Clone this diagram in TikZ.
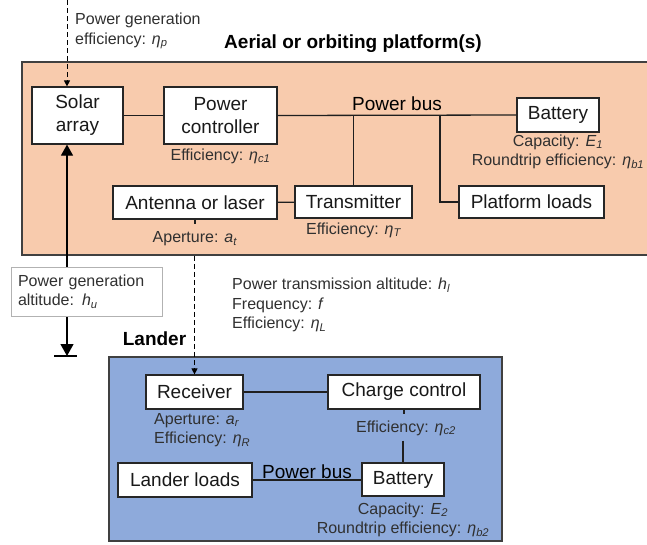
\documentclass[tikz,border=0pt]{standalone}
\usepackage{fontspec}
\setmainfont{Liberation Sans}
\usepackage{tikz}
\usetikzlibrary{positioning,arrows.meta,calc}
\usepackage{xcolor}
\definecolor{platfill}{HTML}{F8CBAD}
\definecolor{landfill}{HTML}{8EAADB}
\definecolor{edgegray}{HTML}{404040}
\definecolor{txtgray}{HTML}{303030}
\newcommand{\etav}[1]{\textit{η\textsubscript{#1}}}
\newcommand{\symv}[2]{\textit{#1}\textsubscript{\textit{#2}}}

\begin{document}
\begin{tikzpicture}[x=1pt,y=-1pt,
  box/.style={draw=black!85,line width=1.2pt,fill=white,text=black!90,inner sep=0pt,align=center,font=\fontsize{19}{23}\selectfont},
  lbl/.style={text=txtgray,inner sep=1pt,align=center,font=\fontsize{16}{19.5}\selectfont},
  wire/.style={line width=1.3pt,draw=black!88},
  beam/.style={line width=1pt,dash pattern=on 5pt off 3pt,-{Triangle[length=6pt,width=6pt]}},
  zone/.style={draw=edgegray,line width=1.5pt,inner sep=0pt}]
\useasboundingbox (0,0) rectangle (647,544);
\node[zone,fill=platfill,minimum width=630pt,minimum height=193pt] (plat) at (337,158.5) {};
\node[zone,fill=landfill,minimum width=393pt,minimum height=184pt] (land) at (305.5,449) {};
\node[font=\fontsize{19}{23}\selectfont\bfseries] (platTitle) at (353,44) {Aerial or orbiting platform(s)};
\node[font=\fontsize{19}{23}\selectfont\bfseries] (landTitle) at (154.5,339) {Lander};

\node[box,minimum width=91pt,minimum height=57pt] (solar) at (77.5,115.5) {Solar\\array};
\node[box,minimum width=113pt,minimum height=57pt] (ctrl) at (220.5,115.5) {Power\\controller};
\node[box,minimum width=82pt,minimum height=34pt] (battA) at (558,115) {Battery};
\node[box,minimum width=164pt,minimum height=33pt] (antenna) at (195,202.5) {Antenna or laser};
\node[box,minimum width=117pt,minimum height=32pt] (trans) at (353.5,202) {Transmitter};
\node[box,minimum width=145pt,minimum height=32pt] (loadsA) at (531.5,202) {Platform loads};
\node[box,minimum width=97pt,minimum height=34pt] (recv) at (194.5,392) {Receiver};
\node[box,minimum width=152pt,minimum height=34pt] (charge) at (404,392) {Charge control};
\node[box,minimum width=134pt,minimum height=34pt] (loadsL) at (185,480) {Lander loads};
\node[box,minimum width=82pt,minimum height=33pt] (battL) at (403,479.5) {Battery};

\node[lbl,below=3pt of ctrl] (effC1) {Efficiency: \etav{c1}};
\node[lbl,below=1pt of battA] (battAinfo) {Capacity: \symv{E}{1}\\Roundtrip efficiency: \etav{b1}};
\node[lbl,below=3pt of trans] (effT) {Efficiency: \etav{T}};
\node[lbl] (apT) at (195,239) {Aperture: \symv{a}{t}};
\node[lbl,anchor=west,align=left] (effP) at (74,31) {Power generation\\efficiency: \etav{p}};
\node[lbl,anchor=north west,align=left] (beamInfo) at (231,277) {Power transmission altitude: \symv{h}{l}\\Frequency: \textit{f}\\Efficiency: \etav{L}};
\node[lbl,anchor=north west,align=left] (recvInfo) at (153,412) {Aperture: \symv{a}{r}\\Efficiency: \etav{R}};
\node[lbl,inner ysep=5pt] (effC2) at (406,428) {Efficiency: \etav{c2}};
\node[lbl,below=5pt of battL] (battLinfo) {Capacity: \symv{E}{2}\\Roundtrip efficiency: \etav{b2}};

\coordinate (sunTop) at (67,0);
\coordinate (ground) at (67,356);
\coordinate (busL) at (440,115);
\coordinate[below=4pt of antenna] (apStub);
\coordinate[below=4pt of charge] (c2Stub);

\draw[beam] (sunTop) -- (sunTop |- solar.north);
\draw[line width=1.2pt,{Triangle[length=11pt,width=12pt]}-{Triangle[length=12pt,width=13pt]}] (solar.south -| sunTop) -- (ground);
\draw[line width=1.2pt] ([xshift=-13pt]ground) -- ([xshift=10pt]ground);
\node[draw=black!30,line width=1pt,fill=white,text=txtgray,align=left,font=\fontsize{16}{19.5}\selectfont,text width=137pt,inner xsep=7pt,minimum height=49pt] (altU) at (86.5,291.5) {Power generation\\altitude: \symv{h}{u}};

\draw[wire] (solar) -- (ctrl);
\draw[wire] (ctrl.east) -- (battA.west) node[midway,above=3pt,inner sep=1pt,font=\fontsize{19}{23}\selectfont] {Power bus};
\draw[wire] (trans.north) -- (trans.north |- battA.west);
\draw[wire] (busL) |- (loadsA.west);
\draw[wire] (antenna) -- (trans);
\draw[wire] (antenna.south) -- (apStub);
\draw[beam] (recv.north |- plat.south) -- (recv.north);
\draw[wire] (recv) -- (charge);
\draw[wire] (charge.south) -- (c2Stub);
\draw[wire] (battL.north |- effC2.south) -- (battL.north);
\draw[wire] (loadsL.east) -- (loadsL.east -| battL.west) node[midway,above=0pt,inner sep=1pt,font=\fontsize{19}{23}\selectfont] {Power bus};
\end{tikzpicture}
\end{document}
